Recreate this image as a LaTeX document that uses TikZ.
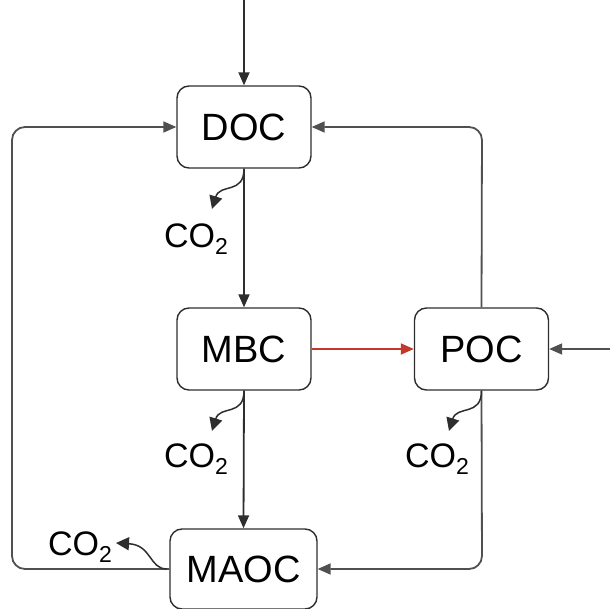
\documentclass[tikz,border=0pt]{standalone}
\usepackage{fontspec}
\setmainfont{Liberation Sans}
\usetikzlibrary{arrows.meta}
\definecolor{ln}{HTML}{2E2E2E}
\definecolor{lg}{HTML}{505050}
\definecolor{rd}{HTML}{C0392B}
\newcommand{\cotwo}{CO\raisebox{-0.22em}{\fontsize{23}{25}\selectfont 2}}
\begin{document}
\begin{tikzpicture}[x=1pt,y=-1pt,
  pool/.style={draw=ln,line width=1.4pt,rounded corners=12pt,minimum width=134pt,minimum height=82pt,inner sep=0pt,font=\fontsize{38}{42}\selectfont},
  gas/.style={inner sep=0pt,font=\fontsize{34}{38}\selectfont},
  flow/.style={draw=ln,line width=1.8pt,-{Triangle[length=13pt,width=11pt]}},
  loop/.style={draw=lg,line width=1.8pt,rounded corners=13pt,-{Triangle[length=13pt,width=11pt]}},
  resp/.style={draw=ln,line width=1.5pt,-{Triangle[length=13pt,width=13pt]}}]
\useasboundingbox (0,0) rectangle (610,609);
\node[pool] (doc) at (244,127) {DOC};
\node[pool] (mbc) at (244,349) {MBC};
\node[pool] (poc) at (481.5,349) {POC};
\node[pool,minimum width=147pt,minimum height=80pt] (maoc) at (243.5,569) {MAOC};
\node[gas] (c1) at (196,239) {\cotwo};
\node[gas] (c2) at (196,459) {\cotwo};
\node[gas] (c3) at (437,459) {\cotwo};
\node[gas] (c4) at (80,547) {\cotwo};
\coordinate (top) at (244,0);
\coordinate (rin) at (610,349);
\coordinate (lc1) at (12,569);
\coordinate (lc2) at (12,127);
\coordinate (rc1) at (482,127);
\coordinate (rc2) at (482,569);
\coordinate (t1) at (212,209);
\coordinate (t2) at (212,431);
\coordinate (t3) at (449,431);
\coordinate (t4) at (116,543);
\coordinate (s4) at (167,569);
% main flows
\draw[flow] (top) -- (doc.north);
\draw[flow] (doc.south) -- (mbc.north);
\draw[flow] (mbc.south) -- (maoc.north);
\draw[flow,draw=rd,-{Triangle[length=13pt,width=11pt,fill=rd]}] (mbc.east) -- (poc.west);
\draw[flow,draw=lg] (rin) -- (poc.east);
% loops
\draw[loop] (maoc.west) -- (lc1) -- (lc2) -- (doc.west);
\draw[loop] (poc.north) -- (rc1) -- (doc.east);
\draw[loop] (poc.south) -- (rc2) -- (maoc.east);
% respiration
\draw[resp] (doc.south) .. controls +(0,26) and +(8,-26) .. (t1);
\draw[resp] (mbc.south) .. controls +(0,26) and +(8,-26) .. (t2);
\draw[resp] (poc.south) .. controls +(0,26) and +(8,-26) .. (t3);
\draw[resp] (s4) .. controls +(-18,0) and +(36,2) .. (t4);
\end{tikzpicture}
\end{document}
